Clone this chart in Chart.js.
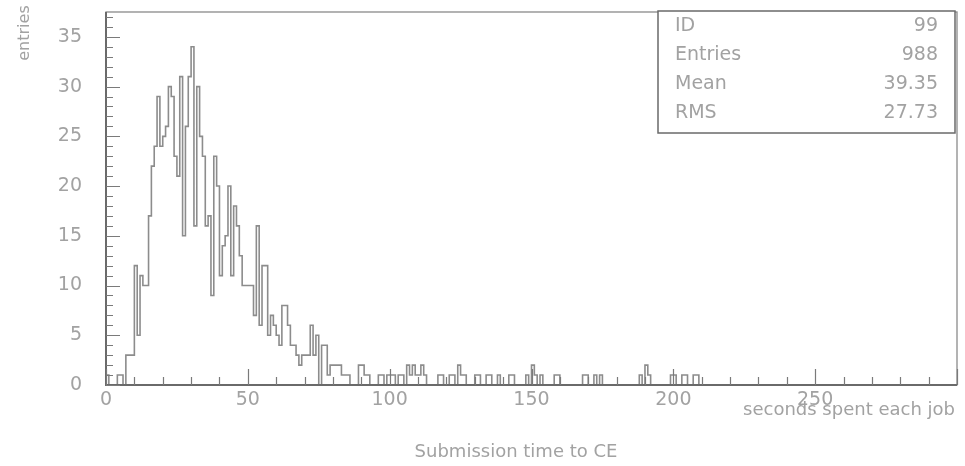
<!DOCTYPE html>
<html>
<head>
<meta charset="utf-8">
<script src="https://cdn.jsdelivr.net/npm/chart.js@4/dist/chart.umd.min.js"></script>
<style>
  html, body { margin: 0; padding: 0; background: #fff; }
  #wrap { width: 965px; height: 466px; position: relative; }
</style>
</head>
<body>
<div id="wrap"><canvas id="hist"></canvas></div>
<script>
// tick labels
const xTicks = [0, 50, 100, 150, 200, 250];
const yTicks = [0, 5, 10, 15, 20, 25, 30, 35];

// entries per 1 s bin, bins 0..299
const counts = [
    1, 0, 0, 0, 1, 1, 0, 3, 3, 3, 12, 5, 11, 10, 10, 17, 22, 24, 29, 24,
    25, 26, 30, 29, 23, 21, 31, 15, 26, 31, 34, 16, 30, 25, 23, 16, 17, 9, 23, 20,
    11, 14, 15, 20, 11, 18, 16, 13, 10, 10, 10, 10, 7, 16, 6, 12, 12, 5, 7, 6,
    5, 4, 8, 8, 6, 4, 4, 3, 2, 3, 3, 3, 6, 3, 5, 0, 4, 4, 1, 2,
    2, 2, 2, 1, 1, 1, 0, 0, 0, 2, 2, 1, 1, 0, 0, 0, 1, 1, 0, 1,
    1, 1, 0, 1, 1, 0, 2, 1, 2, 1, 1, 2, 1, 0, 0, 0, 0, 1, 1, 0,
    0, 1, 1, 0, 2, 1, 1, 0, 0, 0, 1, 1, 0, 0, 1, 1, 0, 0, 1, 0,
    0, 0, 1, 1, 0, 0, 0, 0, 1, 0, 2, 1, 0, 1, 0, 0, 0, 0, 1, 1,
    0, 0, 0, 0, 0, 0, 0, 0, 1, 1, 0, 0, 1, 0, 1, 0, 0, 0, 0, 0,
    0, 0, 0, 0, 0, 0, 0, 0, 1, 0, 2, 1, 0, 0, 0, 0, 0, 0, 0, 1,
    1, 0, 0, 1, 1, 0, 0, 1, 1, 0, 0, 0, 0, 0, 0, 0, 0, 0, 0, 0,
    0, 0, 0, 0, 0, 0, 0, 0, 0, 0, 0, 0, 0, 0, 0, 0, 0, 0, 0, 0,
    0, 0, 0, 0, 0, 0, 0, 0, 0, 0, 0, 0, 0, 0, 0, 0, 0, 0, 0, 0,
    0, 0, 0, 0, 0, 0, 0, 0, 0, 0, 0, 0, 0, 0, 0, 0, 0, 0, 0, 0,
    0, 0, 0, 0, 0, 0, 0, 0, 0, 0, 0, 0, 0, 0, 0, 0, 0, 0, 0, 0
];

const statLabels = ['ID', 'Entries', 'Mean', 'RMS'];
const statValues = ['99', '988', '39.35', '27.73'];

const FONT = '"DejaVu Sans", sans-serif';
const TEXT = '#a2a2a2';

// outline points: left edge of each bin, closed back to zero at the end
var points = [{ x: 0, y: 0 }];
counts.forEach(function (c, i) { points.push({ x: i, y: c }); });
points.push({ x: counts.length, y: 0 });

var pawFrame = {
    id: 'pawFrame',
    afterDraw: function (chart) {
        var ctx = chart.ctx;
        var a = chart.chartArea;
        var xs = chart.scales.x;
        var ys = chart.scales.y;
        ctx.save();

        // frame
        ctx.strokeStyle = '#8a8a8a';
        ctx.lineWidth = 1.3;
        ctx.strokeRect(a.left, a.top, a.right - a.left, a.bottom - a.top);

        // axes
        ctx.strokeStyle = '#6a6a6a';
        ctx.lineWidth = 2;
        ctx.beginPath();
        ctx.moveTo(a.left, a.top);
        ctx.lineTo(a.left, a.bottom);
        ctx.lineTo(a.right, a.bottom);
        ctx.stroke();

        // inward ticks
        ctx.lineWidth = 1.2;
        ctx.strokeStyle = '#7a7a7a';
        ctx.beginPath();
        for (var v = 0; v <= xs.max; v += 10) {
            var px = Math.round(xs.getPixelForValue(v)) + 0.5;
            var len = v % 50 === 0 ? 16 : 8;
            ctx.moveTo(px, a.bottom);
            ctx.lineTo(px, a.bottom - len);
        }
        for (var w = 0; w <= ys.max; w += 1) {
            var py = Math.round(ys.getPixelForValue(w)) + 0.5;
            var l2 = w % 5 === 0 ? 14 : 7;
            ctx.moveTo(a.left, py);
            ctx.lineTo(a.left + l2, py);
        }
        ctx.stroke();

        // statistics box
        var bx = a.right - 299, by = a.top - 1, bw = 297, bh = 122;
        ctx.fillStyle = '#fff';
        ctx.fillRect(bx, by, bw, bh);
        ctx.strokeStyle = '#6a6a6a';
        ctx.lineWidth = 1.5;
        ctx.strokeRect(bx, by, bw, bh);
        ctx.fillStyle = TEXT;
        ctx.font = '19px ' + FONT;
        ctx.textBaseline = 'middle';
        statLabels.forEach(function (s, i) {
            var ty = by + 15 + i * 29;
            ctx.textAlign = 'left';
            ctx.fillText(s, bx + 17, ty);
            ctx.textAlign = 'right';
            ctx.fillText(statValues[i], bx + bw - 17, ty);
        });

        // axis titles
        ctx.font = '18px ' + FONT;
        ctx.textAlign = 'right';
        ctx.fillText('seconds spent each job', a.right - 2, 410);
        ctx.textAlign = 'center';
        ctx.fillText('Submission time to CE', 516, 452);

        ctx.save();
        ctx.translate(25, 33);
        ctx.rotate(-Math.PI / 2);
        ctx.font = '16px ' + FONT;
        ctx.fillText('entries', 0, 0);
        ctx.restore();

        ctx.restore();
    }
};

new Chart(document.getElementById('hist'), {
    type: 'line',
    data: {
        datasets: [{
            data: points,
            stepped: 'before',
            borderColor: '#8c8c8c',
            borderWidth: 1.6,
            pointRadius: 0,
            fill: false,
        }]
    },
    options: {
        responsive: true,
        maintainAspectRatio: false,
        animation: false,
        layout: { padding: { left: 0, top: 12, right: 8, bottom: 0 } },
        scales: {
            x: {
                type: 'linear',
                min: 0,
                max: 300,
                grid: { display: false, drawTicks: false },
                border: { display: false },
                afterBuildTicks: function (scale) {
                    scale.ticks = xTicks.map(function (v) { return { value: v }; });
                },
                afterFit: function (scale) {
                    scale.height = 81;
                    scale.paddingLeft = 0;
                    scale.paddingRight = 0;
                },
                ticks: {
                    autoSkip: false,
                    maxRotation: 0,
                    padding: 4,
                    color: TEXT,
                    font: { family: FONT, size: 19 }
                }
            },
            y: {
                type: 'linear',
                min: 0,
                max: 37.5,
                grid: { display: false, drawTicks: false },
                border: { display: false },
                afterBuildTicks: function (scale) {
                    scale.ticks = yTicks.map(function (v) { return { value: v }; });
                },
                afterFit: function (scale) {
                    scale.width = 106;
                    scale.paddingTop = 0;
                    scale.paddingBottom = 0;
                },
                ticks: {
                    padding: 24,
                    color: TEXT,
                    font: { family: FONT, size: 19 }
                }
            }
        },
        plugins: {
            legend: { display: false },
            tooltip: { enabled: false }
        }
    },
    plugins: [pawFrame]
});
</script>
</body>
</html>
